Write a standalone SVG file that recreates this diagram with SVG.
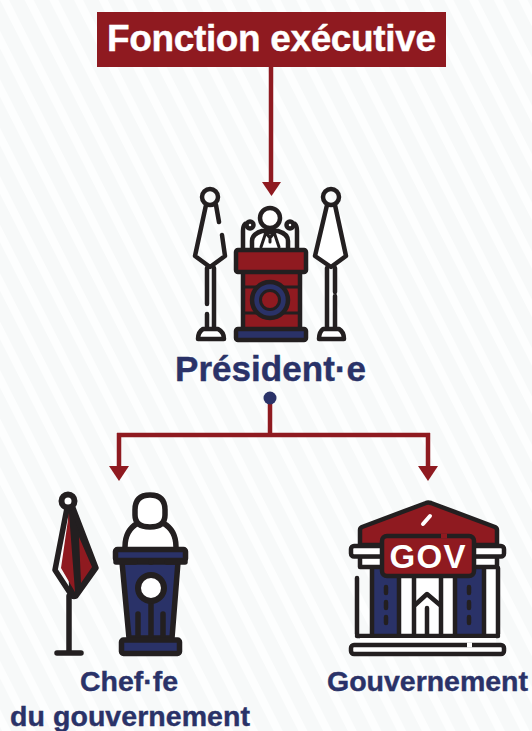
<svg xmlns="http://www.w3.org/2000/svg" width="532" height="731" viewBox="0 0 532 731">
<defs>
<pattern id="bg" width="22" height="22" patternUnits="userSpaceOnUse" patternTransform="rotate(-27)">
<rect width="22" height="22" fill="#f7f9f9"/>
<rect x="0" width="8" height="22" fill="#fdfefe"/>
</pattern>
</defs>
<style>
.k{stroke:#231f20;stroke-width:4.5;stroke-linecap:round;stroke-linejoin:round;fill:none}
.t{stroke-width:3}
.h{stroke-width:5.500}
.r{fill:#8f1a20}.n{fill:#2a3268}.w{fill:#fff}
.c{stroke:#8f1a20;stroke-width:4.5;fill:none}
.a{fill:#8f1a20}
text{font-family:"Liberation Sans",Arial,sans-serif;font-weight:700;text-anchor:middle}
.l{fill:#2a3268;stroke:#2a3268;stroke-width:.4}
</style>
<rect width="532" height="731" fill="url(#bg)"/>
<g id="connectors">
<path class="c" d="M271,67V184"/>
<path class="a" d="M262,182H281L271.500,196Z"/>
<path class="c" d="M270,398V435M117,435H430M119,433V468M428,433V468"/>
<circle cx="270" cy="398" r="6.500" fill="#2a3268"/>
<path class="a" d="M109,466H129L119,481Z"/>
<path class="a" d="M418,466H438L428,481Z"/>
</g>
<g id="title">
<rect x="97" y="12" width="349" height="55" fill="#8f1a20"/>
<text x="271.500" y="51" font-size="37" fill="#fff" stroke="#fff" stroke-width=".4" textLength="329">Fonction exécutive</text>
</g>
<g id="president">
<circle class="k" cx="210" cy="197" r="8"/>
<path class="k" d="M216,205L219,222M222,235L225,256L210,267L195,256L206,205"/>
<path class="k" d="M207,268V304M207,314V329M214,268V329"/>
<path class="k w" d="M203,329H218Q224,332 224,339H198Q198,332 203,329Z"/>
<path class="k w" d="M327,205L315,256L331,267L346,256L335,205"/>
<circle class="k" cx="331" cy="197" r="8"/>
<path class="k" d="M327,268V329M335,268V292M335,296V329"/>
<path class="k w" d="M323,329H339Q344,332 344,339H319Q319,332 323,329Z"/>
<path class="k w" d="M252,248V241Q252,234 262,231H278Q288,234 288,241V248"/>
<path class="k t" d="M266,232L261,247M274,232L279,247M266,233H274L270,238ZM270,238V242"/>
<circle class="k w" cx="270" cy="218" r="10"/>
<path class="k" d="M243,248V231Q243,226 245,224M297,248V231Q297,226 295,224"/>
<circle class="k" cx="250" cy="225" r="3.500"/>
<circle class="k" cx="290" cy="225" r="3.500"/>
<rect x="243" y="270" width="57" height="58" class="r"/>
<path class="k" d="M243,272V328M300,272V328"/>
<path class="k t" d="M244,287H262M280,287H300M244,313H258M283,313H300"/>
<rect class="k r" x="236" y="250" width="70" height="22" rx="2"/>
<rect class="k n" x="236" y="329" width="70" height="11" rx="2"/>
<circle cx="270" cy="300" r="18" class="n" stroke="#231f20" stroke-width="4.500"/>
<circle cx="270" cy="300" r="9.500" class="r" stroke="#231f20" stroke-width="3"/>
<text x="270.500" y="381" font-size="35" class="l" textLength="191">Président·e</text>
</g>
<g id="chef">
<path fill="#231f20" d="M68,508L73,508L97,568L73,597L69,597Z"/>
<path class="k h" d="M67,508L55,570L72,596Q74,597 76,596L96,568L73,508Z"/>
<path class="r" d="M69,513L61,568L75,592ZM79,537L92,567L81,583Z"/>
<circle cx="68" cy="501" r="6.500" fill="#fff" stroke="#231f20" stroke-width="6"/>
<path class="k h" d="M69,596V652M57,653H81"/>
<path class="k w h" d="M125,547Q125,530 138,523H163Q176,530 176,547"/>
<path class="k w h" d="M135,510Q135,495 150,495Q165,495 165,510V515Q165,527 150,527Q135,527 135,515Z"/>
<path d="M122,562H178L172,638H129Z" class="n" stroke="#231f20" stroke-width="5.500" stroke-linejoin="round"/>
<rect class="k n h" x="115.500" y="549.500" width="70" height="11" rx="2"/>
<path class="k h" d="M116,562H135M167,562H185"/>
<circle cx="151" cy="562" r="3" fill="#231f20"/>
<path class="k h" d="M138,637V614M151,637V604M163,637V614"/>
<circle cx="151" cy="588" r="13" class="w" stroke="#231f20" stroke-width="6"/>
<rect class="k n h" x="121.500" y="640" width="58" height="13.500" rx="2"/>
<text x="129" y="691" font-size="28.500" class="l" textLength="98">Chef·fe</text>
<text x="130" y="726" font-size="28.500" class="l" textLength="240">du gouvernement</text>
</g>
<g id="gouvernement">
<path class="k" style="fill:#8f1a20" d="M360,545V530Q360,528 362,527L426,503Q428,502 431,503L495,527Q497,528 497,530V545Z"/>
<rect x="374" y="568" width="24" height="66" class="n"/>
<rect x="457" y="568" width="25" height="66" class="n"/>
<rect x="398" y="568" width="59" height="66" class="w"/>
<rect x="484" y="568" width="13" height="66" class="w"/>
<path class="k" d="M357,578V634M372,568V634M399,568V634M414,578V634M441,578V634M455,568V634M484,568V634M498,568V634"/>
<path class="k" d="M415,605L427,594L440,605M427,608V634"/>
<path class="k" d="M386,587V593M386,602V608M386,617V623M469,587V593M469,602V608M469,617V623"/>
<rect class="k w" x="360" y="556" width="137" height="11"/>
<rect class="k w" x="351" y="546" width="153" height="10.500" rx="3"/>
<rect class="k" style="fill:#8f1a20" x="382" y="536" width="92" height="40" rx="5"/>
<path d="M441,536h6" stroke="#8f1a20" stroke-width="5"/>
<path d="M423,524L430,516" stroke="#fff" stroke-width="4" stroke-linecap="round"/>
<text x="427.500" y="568" font-size="33" fill="#fff" textLength="76">GOV</text>
<path class="k" d="M357,636H498"/>
<rect x="360" y="638" width="136" height="6" fill="#fff"/>
<rect class="k w" x="351" y="645" width="153" height="9" rx="3"/>
<path d="M467,645H472" stroke="#fff" stroke-width="5"/>
<text x="427.500" y="691" font-size="28.500" class="l" textLength="201">Gouvernement</text>
</g>
</svg>
